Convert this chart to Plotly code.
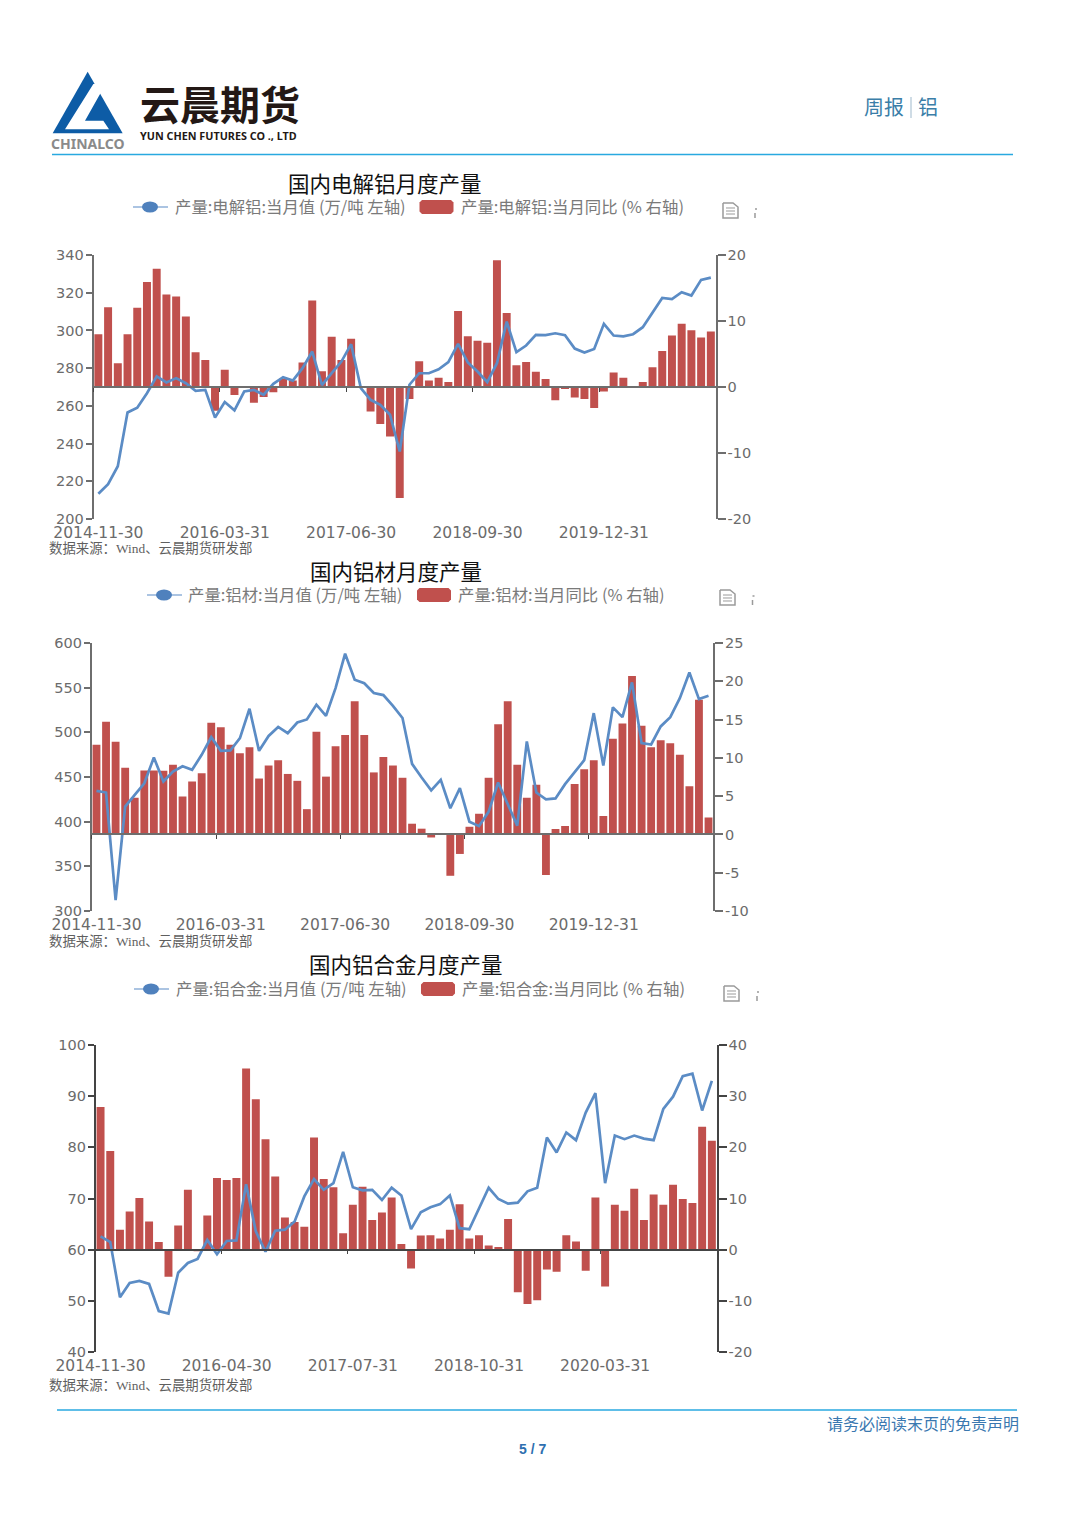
import plotly.graph_objects as go

# ---------- categories ----------
dates_a = ["2014-11-30","2014-12-31","2015-02-28","2015-03-31","2015-04-30","2015-05-31","2015-06-30","2015-07-31",
           "2015-08-31","2015-09-30","2015-10-31","2015-11-30","2015-12-31","2016-03-31","2016-04-30","2016-05-31",
           "2016-06-30","2016-07-31","2016-08-31","2016-09-30","2016-10-31","2016-11-30","2016-12-31","2017-03-31",
           "2017-04-30","2017-05-31","2017-06-30","2017-07-31","2017-08-31","2017-09-30","2017-10-31","2017-11-30",
           "2017-12-31","2018-03-31","2018-04-30","2018-05-31","2018-06-30","2018-07-31","2018-08-31","2018-09-30",
           "2018-10-31","2018-11-30","2018-12-31","2019-03-31","2019-04-30","2019-05-31","2019-06-30","2019-07-31",
           "2019-08-31","2019-09-30","2019-10-31","2019-11-30","2019-12-31","2020-03-31","2020-04-30","2020-05-31",
           "2020-06-30","2020-07-31","2020-08-31","2020-09-30","2020-10-31","2020-11-30","2020-12-31","2021-03-31"]
dates_b = dates_a + ["2021-04-30"]
dates_c = ["2014-11-30","2014-12-31","2015-03-31","2015-04-30","2015-05-31","2015-06-30","2015-07-31","2015-08-31",
           "2015-09-30","2015-10-31","2015-11-30","2015-12-31","2016-03-31","2016-04-30","2016-05-31","2016-06-30",
           "2016-07-31","2016-08-31","2016-09-30","2016-10-31","2016-11-30","2016-12-31","2017-03-31","2017-04-30",
           "2017-05-31","2017-06-30","2017-07-31","2017-08-31","2017-09-30","2017-10-31","2017-11-30","2017-12-31",
           "2018-03-31","2018-04-30","2018-05-31","2018-06-30","2018-07-31","2018-08-31","2018-09-30","2018-10-31",
           "2018-11-30","2018-12-31","2019-03-31","2019-04-30","2019-05-31","2019-06-30","2019-07-31","2019-08-31",
           "2019-09-30","2019-10-31","2019-11-30","2019-12-31","2020-03-31","2020-04-30","2020-05-31","2020-06-30",
           "2020-07-31","2020-08-31","2020-09-30","2020-10-31","2020-11-30","2020-12-31","2021-03-31","2021-04-30"]

# ---------- series ----------
smelter_output = [213.4,218.5,228,256.5,259,266.7,275.6,272.4,274.7,272,268,268.5,253.8,262,257.6,267.6,
                  268.5,265.9,271.7,275.2,273.4,280,288.8,271,277.3,283.5,292.7,269.4,263.2,260.6,255.3,235.8,
                  271.2,277.3,277.3,279.4,283.2,292.9,283,278.2,272.6,282.6,304.7,288.5,292,297.6,297.5,298.5,
                  297.5,290.4,288.3,290.2,303.5,297.3,296.9,298,301.7,309.5,317.2,316.6,320.3,318.5,326.8,328]
smelter_yoy = [8.0,12.1,3.6,8.0,12.0,15.9,17.9,14.0,13.7,10.7,5.25,4.1,-3.6,2.6,-1.2,-0.1,
               -2.4,-1.5,-0.8,1.3,1.0,3.7,13.1,2.4,7.6,4.1,7.3,-0.1,-3.7,-5.6,-7.5,-16.8,
               -1.8,3.9,1.0,1.4,0.75,11.5,7.7,7.0,6.7,19.2,11.2,3.3,3.8,2.3,1.2,-2.0,
               -0.3,-1.6,-1.8,-3.2,-0.7,2.2,1.4,-0.05,0.75,3.0,5.45,7.8,9.6,8.6,7.5,8.4]

product_output = [434.5,432.6,312.3,416.9,430,443,471.8,445,456,462,458,474.8,494.6,479.3,479.7,493.5,
                  526.4,479.3,496,506,499,511,514.4,530.9,518.5,549.5,588,558.9,555,544,541.7,529.7,
                  516,464.7,449.4,435,446.8,415,437.5,400,395,411,443.8,420.7,395.6,489.8,432.6,425,
                  426,442,456,468.8,521.5,462.9,528,517,555.9,487.9,486.4,506.6,517,538.3,567,537.2,541]
product_yoy = [11.7,14.7,12.1,8.7,4.8,8.35,8.35,8.3,9.1,4.95,6.9,8.0,14.6,14.0,11.7,10.6,
               11.4,7.3,9.0,9.7,7.9,7.0,3.3,13.4,7.55,11.5,13.0,17.4,13.0,8.1,10.1,9.0,
               7.4,1.4,0.75,-0.4,-0.05,-5.4,-2.55,1.0,2.7,7.4,14.4,17.4,9.1,4.8,6.5,-5.3,
               0.7,1.1,6.6,8.5,9.7,2.4,12.5,14.5,20.7,14.2,11.4,12.3,11.9,10.4,6.3,17.6,2.2]

alloy_output = [62.6,61.5,50.7,53.5,53.9,53.3,48,47.5,55.5,57.4,58.2,61.9,59.1,61.7,61.8,72.8,
                63.6,59.6,63.7,63.9,65.5,70.4,73.8,71.7,73,79.1,72.2,71.6,71.7,69.7,72.1,70.6,
                64,67.3,68.3,68.9,70.6,64.2,64,68.1,72.1,69.9,69,69.2,71.4,72.1,81.9,79,
                82.9,81.4,86.8,90.6,73,82.3,81.6,82.3,81.7,81.4,87.5,89.9,93.9,94.4,87.2,93]
alloy_yoy = [27.9,19.3,3.9,7.45,10.1,5.5,1.5,-5.3,4.7,11.7,-0.3,6.7,14.0,13.6,14.0,35.4,
             29.4,21.6,14.3,6.3,5.4,4.5,21.9,13.8,12.2,3.2,8.8,12.3,5.8,7.25,10.2,1.1,
             -3.7,2.75,2.8,2.2,3.9,8.9,2.2,2.8,0.8,0.5,6.0,-8.3,-10.6,-9.9,-3.9,-4.3,
             2.8,1.6,-4.1,10.2,-7.2,8.8,7.6,11.9,5.8,10.8,8.8,12.7,9.9,9.1,24.0,21.3]

# ---------- right-axis ticks (written with a plain hyphen, as in the reference) ----------
right_vals_a = [-20, -10, 0, 10, 20]
right_text_a = ["-20", "-10", "0", "10", "20"]
right_vals_b = [-10, -5, 0, 5, 10, 15, 20, 25]
right_text_b = ["-10", "-5", "0", "5", "10", "15", "20", "25"]
right_vals_c = [-20, -10, 0, 10, 20, 30, 40]
right_text_c = ["-20", "-10", "0", "10", "20", "30", "40"]

W, H = 1080, 1526
BLUE = "#5b8cc5"
RED = "#c0504d"
CJK = "Noto Sans CJK SC"

def px(x): return x / W
def py(y): return 1 - y / H

charts = [
    dict(cats=dates_a, line=smelter_output, bars=smelter_yoy, left=(200, 340), ldtick=20, right=(-20, 20),
         rvals=right_vals_a, rtext=right_text_a,
         x=(93.5, 715.7), y=(255, 519), axis="#6e6e6e",
         title="国内电解铝月度产量", tx=384.5, ty=183,
         l1="产量:电解铝:当月值 (万/吨 左轴)", l2="产量:电解铝:当月同比 (% 右轴)",
         key_x=133, ley=207, l1x=174, bar_x=419.5, l2x=460, icon=(723, 203), dots=755,
         src_y=548),
    dict(cats=dates_b, line=product_output, bars=product_yoy, left=(300, 600), ldtick=50, right=(-10, 25),
         rvals=right_vals_b, rtext=right_text_b,
         x=(91.7, 713.3), y=(643, 911), axis="#6e6e6e",
         title="国内铝材月度产量", tx=395.5, ty=570.5,
         l1="产量:铝材:当月值 (万/吨 左轴)", l2="产量:铝材:当月同比 (% 右轴)",
         key_x=147, ley=595, l1x=187, bar_x=417, l2x=457, icon=(720, 590), dots=752.5,
         src_y=941),
    dict(cats=dates_c, line=alloy_output, bars=alloy_yoy, left=(40, 100), ldtick=10, right=(-20, 40),
         rvals=right_vals_c, rtext=right_text_c,
         x=(95.7, 716.7), y=(1045, 1352), axis="#444444",
         title="国内铝合金月度产量", tx=406, ty=963.5,
         l1="产量:铝合金:当月值 (万/吨 左轴)", l2="产量:铝合金:当月同比 (% 右轴)",
         key_x=134, ley=989, l1x=175, bar_x=421, l2x=461, icon=(724, 986), dots=757,
         src_y=1385),
]

fig = go.Figure()
shapes, annos, axes = [], [], {}

def text(x, y, s, size, color, anchor="left", family=CJK, weight=None):
    f = dict(size=size, color=color, family=family)
    if weight:
        f["weight"] = weight
    annos.append(dict(x=px(x), y=py(y), xref="paper", yref="paper", text=s, showarrow=False,
                      xanchor=anchor, yanchor="middle", font=f, borderpad=0))

def poly(points, fill=None, line=None, width=1):
    d = "M" + " L".join(f"{px(a):.5f},{py(b):.5f}" for a, b in points) + (" Z" if fill else "")
    shapes.append(dict(type="path", xref="paper", yref="paper", path=d,
                       fillcolor=fill or "rgba(0,0,0,0)",
                       line=dict(color=line or "rgba(0,0,0,0)", width=width if line else 0)))

xtick_font = dict(family="DejaVu Sans", size=15.5, color="#6b6b6b")
ytick_font = dict(family="DejaVu Sans", size=14.5, color="#6b6b6b")

for i, c in enumerate(charts):
    a, b = 2 * i + 1, 2 * i + 2
    xa, xb = ("x" if a == 1 else f"x{a}"), f"x{b}"
    ya, yb = ("y" if a == 1 else f"y{a}"), f"y{b}"
    xk, xk2 = "xaxis" if a == 1 else f"xaxis{a}", f"xaxis{b}"
    yk, yk2 = "yaxis" if a == 1 else f"yaxis{a}", f"yaxis{b}"

    fig.add_trace(go.Bar(x=c["cats"], y=c["bars"], name=c["l2"], marker=dict(color=RED, line=dict(width=0)),
                         xaxis=xa, yaxis=ya, showlegend=False))
    fig.add_trace(go.Scatter(x=c["cats"], y=c["line"], name=c["l1"], mode="lines",
                             line=dict(color=BLUE, width=2.7), xaxis=xb, yaxis=yb, showlegend=False))

    xdom = [px(c["x"][0]), px(c["x"][1])]
    ydom = [py(c["y"][1]), py(c["y"][0])]
    n = len(c["cats"])
    xrange_ = [-0.5, n - 0.5]
    r0, r1 = c["right"]
    zero_pos = ydom[0] + (0 - r0) / (r1 - r0) * (ydom[1] - ydom[0])

    axes[xk] = dict(domain=xdom, type="category", categoryorder="array", categoryarray=c["cats"], range=xrange_,
                    anchor=ya, automargin=False, tickmode="linear", tick0=0, dtick=13, ticks="", showline=False,
                    showgrid=False, zeroline=False, tickangle=0, tickfont=xtick_font, ticklabelstandoff=2)
    axes[xk2] = dict(domain=xdom, type="category", categoryorder="array", categoryarray=c["cats"], range=xrange_,
                     overlaying=xa, anchor="free", position=zero_pos, side="bottom", automargin=False,
                     tickmode="linear", tick0=0, dtick=13,
                     tickson="boundaries", ticks="outside", ticklen=4, tickwidth=1.2, tickcolor="#444444",
                     showticklabels=False, showline=True, linecolor=c["axis"], linewidth=1.5,
                     showgrid=False, zeroline=False)
    axes[yk] = dict(domain=ydom, range=list(c["right"]), tickmode="array", tickvals=c["rvals"], ticktext=c["rtext"],
                    anchor=xa, side="right", automargin=False,
                    ticks="outside", ticklen=8, tickwidth=1.5, tickcolor=c["axis"], showline=True, linecolor=c["axis"],
                    linewidth=1.8, showgrid=False, zeroline=False, tickfont=ytick_font, ticklabelstandoff=-1)
    axes[yk2] = dict(domain=ydom, range=list(c["left"]), dtick=c["ldtick"], anchor=xa, overlaying=ya, side="left",
                     automargin=False, ticks="outside", ticklen=6, tickwidth=1.5, tickcolor=c["axis"], showline=True,
                     linecolor=c["axis"], linewidth=1.8, showgrid=False, zeroline=False, tickfont=ytick_font,
                     ticklabelstandoff=-1)

    # title, legend keys and texts, source
    text(c["tx"], c["ty"], c["title"], 21.5, "#111111", anchor="center")
    ky = c["ley"]
    poly([(c["key_x"], ky), (c["key_x"] + 35, ky)], line="#8fb0d8", width=1.5)
    cx = c["key_x"] + 17
    shapes.append(dict(type="circle", xref="paper", yref="paper", x0=px(cx - 8), x1=px(cx + 8),
                       y0=py(ky + 5.5), y1=py(ky - 5.5), fillcolor="#4f81bd", line=dict(width=0)))
    text(c["l1x"], ky - 1, c["l1"], 16.4, "#7a7a7a")
    bx = c["bar_x"]
    bt, bb = ky - 7, ky + 7
    r = 2.5
    poly([(bx + r, bt), (bx + 34 - r, bt), (bx + 34, bt + r), (bx + 34, bb - r), (bx + 34 - r, bb),
          (bx + r, bb), (bx, bb - r), (bx, bt + r)], fill=RED)
    text(c["l2x"], ky - 1, c["l2"], 16.4, "#7a7a7a")
    text(48, c["src_y"], "数据来源：Wind、云晨期货研发部", 13.4, "#5f5f5f", family="Liberation Serif, " + CJK)

    # toolbox icons
    ix, iy = c["icon"]
    poly([(ix, iy), (ix + 10, iy), (ix + 15, iy + 4), (ix + 15, iy + 15), (ix, iy + 15), (ix, iy)],
         line="#9a9a9a", width=1.5)
    for dy in (5, 8, 11):
        poly([(ix + 3, iy + dy), (ix + 12, iy + dy)], line="#9a9a9a", width=1)
    dx = c["dots"]
    poly([(dx, iy + 6), (dx + 2, iy + 6)], line="#9a9a9a", width=1.5)
    poly([(dx, iy + 10), (dx, iy + 15)], line="#9a9a9a", width=1.5)

# header: logo
def lx(v): return 40 + v / 3
def ly(v): return 60 + v / 3
poly([(lx(143), ly(35)), (lx(248), ly(220)), (lx(38), ly(220))], fill="#0d5ca6")
poly([(lx(160), ly(72)), (lx(197), ly(72)), (lx(135), ly(182)), (lx(190), ly(182)), (lx(207), ly(208)), (lx(75), ly(208))],
     fill="#ffffff")
text(88, 144, "CHINALCO", 14, "#8a8a8a", anchor="center", family="Noto Sans", weight=700)
text(219.5, 102.5, "云晨期货", 40, "#231815", anchor="center", weight=700)
text(218.5, 135, "YUN CHEN FUTURES CO ., LTD", 10.8, "#231815", anchor="center", family="Noto Sans", weight=700)
text(884, 107, "周报", 20, "#3b7ea8", anchor="center")
poly([(911, 97), (911, 118)], line="#9fb9cc", width=1)
text(928, 107, "铝", 20, "#3b7ea8", anchor="center")
poly([(52, 154.5), (1013, 154.5)], line="#29a9e0", width=1.6)

# footer
poly([(57, 1410), (1017, 1410)], line="#29a9e0", width=1.6)
text(923, 1424, "请务必阅读末页的免责声明", 16, "#3a78b0", anchor="center", family="Liberation Serif, " + CJK)
text(532.5, 1449, "5 / 7", 14, "#2f6fb0", anchor="center", family="Liberation Sans", weight=700)

fig.update_layout(width=W, height=H, autosize=False, margin=dict(l=0, r=0, t=0, b=0, autoexpand=False),
                  paper_bgcolor="white", plot_bgcolor="white", barmode="overlay", bargap=0.18, showlegend=False,
                  shapes=shapes, annotations=annos, **axes)
fig.write_html("out.html", config={"displayModeBar": False},
               post_script="document.body.style.margin='0';document.body.style.overflow='hidden';")
